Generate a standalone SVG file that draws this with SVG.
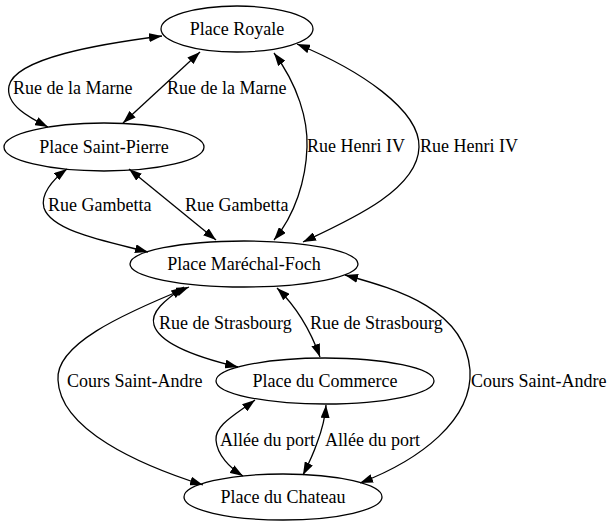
<svg xmlns="http://www.w3.org/2000/svg" width="613" height="528" viewBox="0 0 613 528">
<style>
.node ellipse{fill:none;stroke:#000;stroke-width:1.3}
text{font-family:"Liberation Serif","Times New Roman",serif;font-size:18px;fill:#000}
.node text{text-anchor:middle}
.edge path{fill:none;stroke:#000;stroke-width:1.3;marker-start:url(#ah);marker-end:url(#ah)}
</style>
<defs>
<marker id="ah" viewBox="0 0 13 9" refX="13" refY="4.5" markerWidth="13" markerHeight="9" markerUnits="userSpaceOnUse" orient="auto-start-reverse">
<path d="M0,0 L13,4.5 L0,9 z" fill="#000"/>
</marker>
</defs>
<rect width="613" height="528" fill="#fff"/>
<g id="edges" class="edge">
<path d="M162,36 C100,44 15,58 9,86 C5,105 30,118 48,127"/>
<path d="M200,52 L123,123"/>
<path d="M274,53 C298,85 308,120 307,147 C306,180 295,215 274,240"/>
<path d="M297,44 C360,70 420,110 419,147 C418,190 350,220 303,242"/>
<path d="M67,169 C52,180 40,195 44,208 C52,232 110,242 148,252"/>
<path d="M129,169 L216,240"/>
<path d="M184,287 C165,300 150,312 154,325 C160,345 200,358 238,367"/>
<path d="M277,288 Q305,315 320,357"/>
<path d="M189,287 C120,315 55,345 58,380 C60,430 140,465 203,485"/>
<path d="M345,275 C400,290 465,310 470,370 C473,420 420,460 360,483"/>
<path d="M255,400 C235,415 215,425 216,440 C217,455 230,468 243,476"/>
<path d="M326,405 C325,420 322,430 317,443 C313,455 308,465 303,475"/>
</g>
<g id="edge-labels">
<text x="13" y="94">Rue de la Marne</text>
<text x="167" y="94">Rue de la Marne</text>
<text x="307" y="152">Rue Henri IV</text>
<text x="420" y="152">Rue Henri IV</text>
<text x="48" y="211">Rue Gambetta</text>
<text x="185" y="211">Rue Gambetta</text>
<text x="159" y="329">Rue de Strasbourg</text>
<text x="310" y="329">Rue de Strasbourg</text>
<text x="67" y="387">Cours Saint-Andre</text>
<text x="471" y="387">Cours Saint-Andre</text>
<text x="220" y="446">Allée du port</text>
<text x="325" y="446">Allée du port</text>
</g>
<g id="place-royale" class="node"><ellipse cx="237" cy="29" rx="76" ry="23"/><text x="237" y="35">Place Royale</text></g>
<g id="place-saint-pierre" class="node"><ellipse cx="104" cy="147" rx="100" ry="24"/><text x="104" y="153">Place Saint-Pierre</text></g>
<g id="place-marechal-foch" class="node"><ellipse cx="244" cy="264" rx="114" ry="23"/><text x="244" y="270">Place Maréchal-Foch</text></g>
<g id="place-du-commerce" class="node"><ellipse cx="325" cy="381" rx="109" ry="23"/><text x="325" y="387">Place du Commerce</text></g>
<g id="place-du-chateau" class="node"><ellipse cx="283" cy="497" rx="99" ry="23"/><text x="283" y="503">Place du Chateau</text></g>
</svg>
